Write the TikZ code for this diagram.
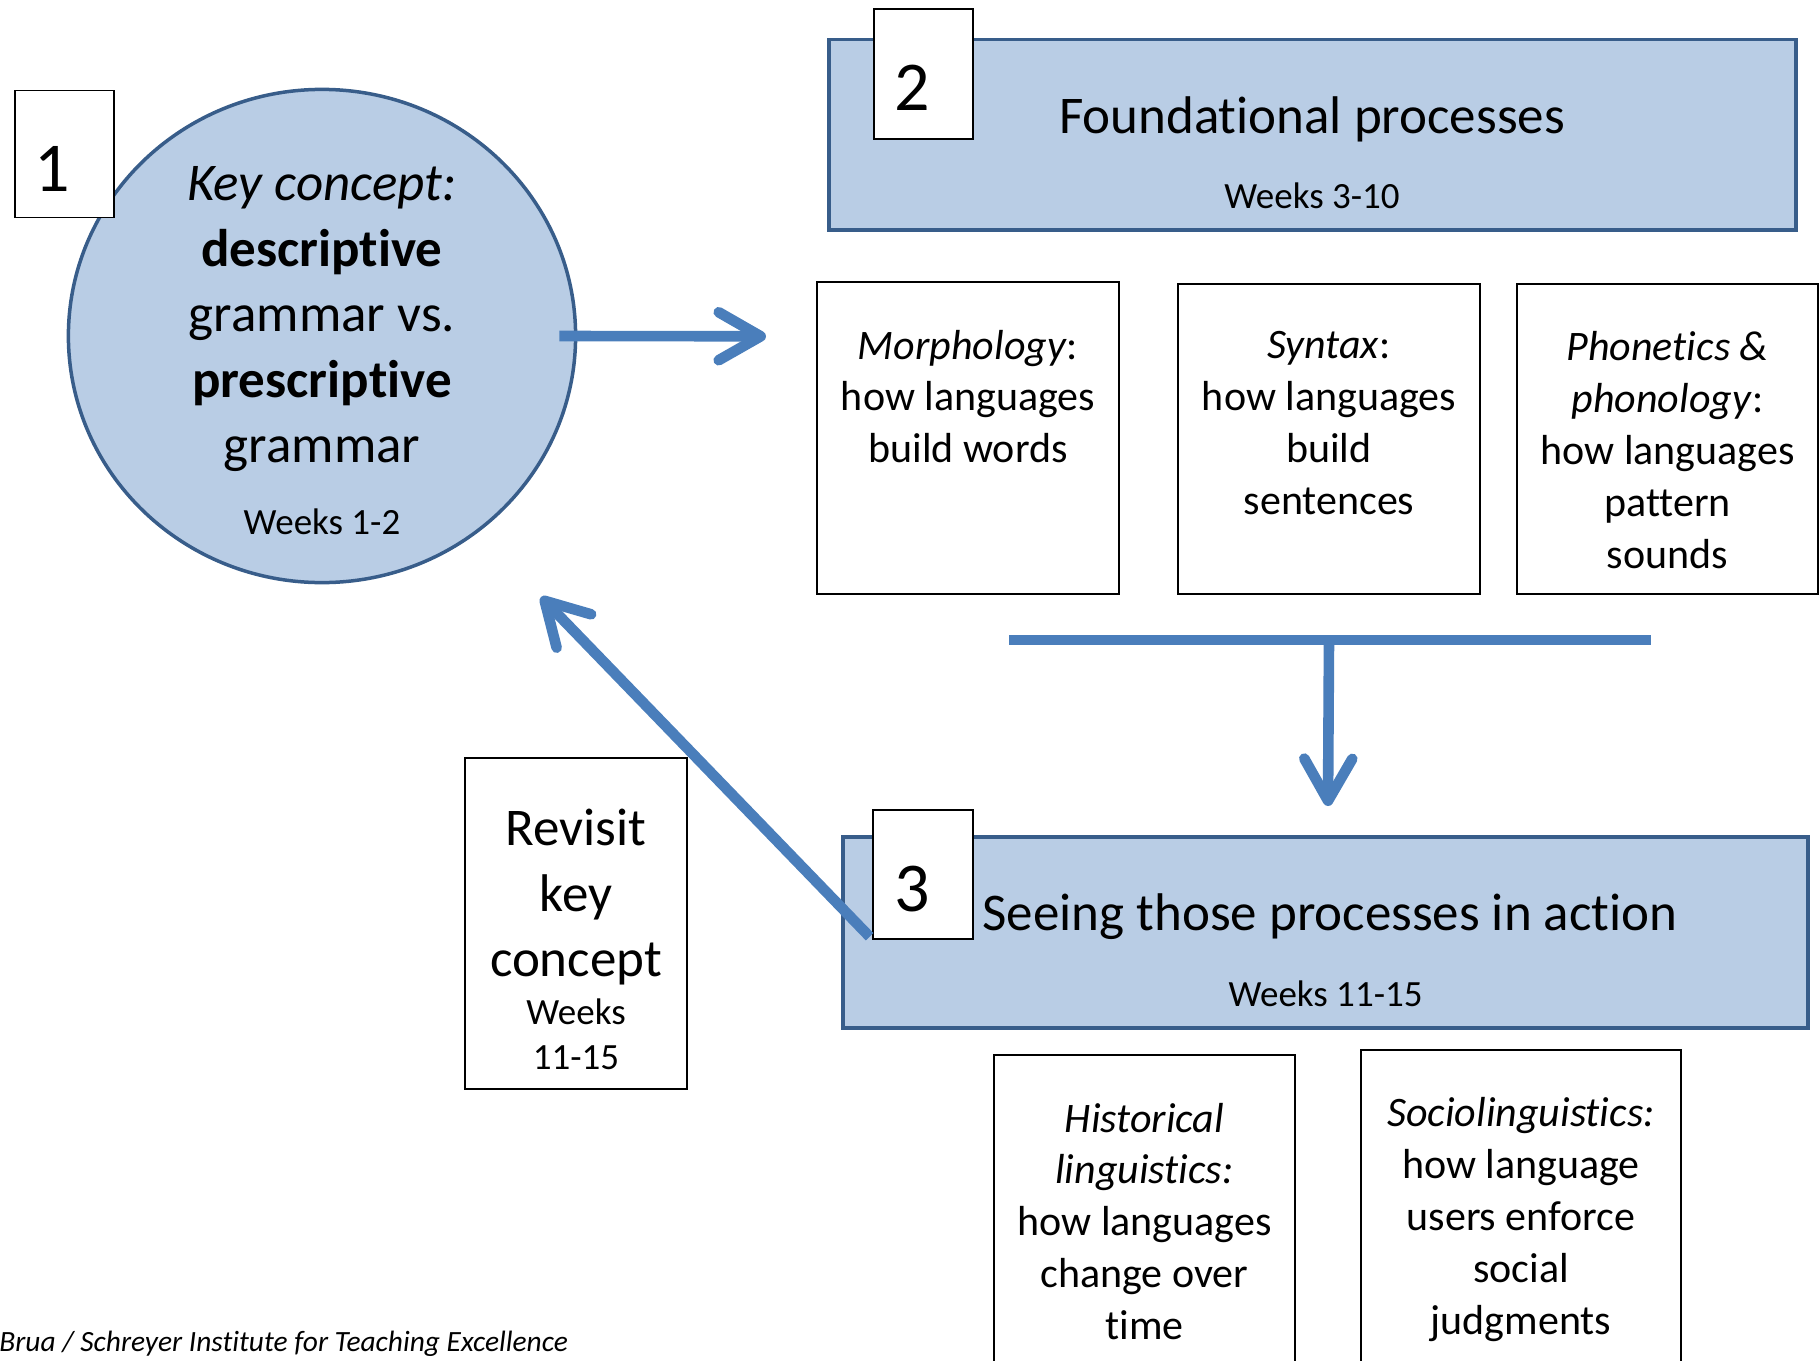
\documentclass[tikz,border=0pt]{standalone}
\usepackage{fontspec}
\setmainfont{Carlito}[Ligatures=NoCommon]
\usetikzlibrary{arrows.meta,shapes.geometric}
\definecolor{fillblue}{HTML}{B9CDE5}
\definecolor{bordblue}{HTML}{385D8A}
\definecolor{arrblue}{HTML}{4A7EBB}
\begin{document}
\begin{tikzpicture}[x=0.5pt,y=-0.5pt,
  bluebox/.style={draw=bordblue,fill=fillblue,line width=1.75pt,inner sep=0pt},
  wbox/.style={draw=black,fill=white,line width=0.6pt,inner sep=0pt},
  digit/.style={font=\fontsize{35}{42}\selectfont,inner sep=0pt},
  bigtxt/.style={font=\fontsize{26.5}{32.8}\selectfont,align=center,inner sep=0pt},
  smalltxt/.style={font=\fontsize{21}{25.9}\selectfont,align=center,inner sep=0pt},
  weektxt/.style={font=\fontsize{18.5}{22.5}\selectfont,align=center,inner sep=0pt},
  conn/.style={draw=arrblue,line width=5.3pt},
  barb/.style={-{Straight Barb[length=21pt,width=24pt,round]}}
]
\useasboundingbox (0,0) rectangle (1820,1360);
\clip (0,0) rectangle (1820,1360);

% key concept circle
\node[ellipse,bluebox,minimum width=253.6pt,minimum height=246.6pt] (c1) at (322,336) {};
\node[bigtxt,anchor=north] (ct) at (322,166) {\textit{Key concept:}\\\textbf{descriptive}\\grammar vs.\\\textbf{prescriptive}\\grammar};
\node[weektxt] (cw) at (322,522) {Weeks 1-2};
\node[wbox,minimum width=49.5pt,minimum height=63.75pt] (n1) at (64.5,154) {};
\node[digit] (d1) at (52.5,169) {1};

% foundational processes
\node[bluebox,minimum width=483.5pt,minimum height=95.25pt] (b2) at (1312.5,134.75) {};
\node[wbox,minimum width=49.5pt,minimum height=65pt] (n2) at (923.5,74) {};
\node[digit] (d2) at (912,88) {2};
\node[bigtxt] (t2) at (1312,119.5) {Foundational processes};
\node[weektxt] (w2) at (1312,196) {Weeks 3-10};

% three process boxes
\node[wbox,minimum width=151pt,minimum height=156pt] (m) at (968,438) {};
\node[smalltxt,anchor=north] (mt) at (968,329.5) {\textit{Morphology}:\\how languages\\build words};
\node[wbox,minimum width=151pt,minimum height=155pt] (s) at (1329,439) {};
\node[smalltxt,anchor=north] (st) at (1329,331.3) {\textit{Syntax}:\\how languages\\build\\sentences};
\node[wbox,minimum width=150.5pt,minimum height=155pt] (ph) at (1667.5,439) {};
\node[smalltxt,anchor=north] (pht) at (1667.5,331.3) {\textit{Phonetics \&}\\\textit{phonology}:\\how languages\\pattern\\sounds};

% bar and down arrow
\coordinate (barL) at (1009,640);
\coordinate (barR) at (1651,640);
\draw[conn] (barL) -- (barR);
\coordinate (dtip) at (1328,806);
\draw[conn,barb] (s.south |- barL) -- (dtip);

% seeing processes in action
\node[bluebox,minimum width=482.5pt,minimum height=95.5pt] (b3) at (1325.5,932.5) {};
\node[bigtxt] (t3) at (1330,916.6) {Seeing those processes in action};
\node[weektxt] (w3) at (1325.5,993.3) {Weeks 11-15};

% revisit box
\node[wbox,minimum width=111pt,minimum height=165.5pt] (r) at (576,923.5) {};
\node[bigtxt,anchor=north] (rt1) at (576,808.6) {Revisit\\key\\concept};
\node[weektxt,anchor=north] (rt2) at (576,998.6) {Weeks\\11-15};

% lower boxes
\node[wbox,minimum width=150.5pt,minimum height=200pt] (h) at (1144.5,1255) {};
\node[smalltxt,anchor=north] (ht) at (1144.5,1102.5) {\textit{Historical}\\\textit{linguistics:}\\how languages\\change over\\time};
\node[wbox,minimum width=160pt,minimum height=200pt] (so) at (1521,1250) {};
\node[smalltxt,anchor=north] (sot) at (1521,1097.3) {\textit{Sociolinguistics:}\\how language\\users enforce\\social\\judgments};

% number box of step 3
\node[wbox,minimum width=50pt,minimum height=64.5pt] (n3) at (923,874.5) {};
\node[digit] (d3) at (912,889) {3};

% arrows
\coordinate (rtip) at (766,336.3);
\draw[conn,barb] ([xshift=-9pt]c1.east) -- (rtip);
\coordinate (ltip) at (541,597);
\draw[conn,barb,shorten <=2pt] (n3.south west) -- (ltip);

% footer
\node[font=\fontsize{14.7}{17}\selectfont\itshape,anchor=base west,inner sep=0pt] (ft) at (-1,1351) {Brua / Schreyer Institute for Teaching Excellence};
\end{tikzpicture}
\end{document}
